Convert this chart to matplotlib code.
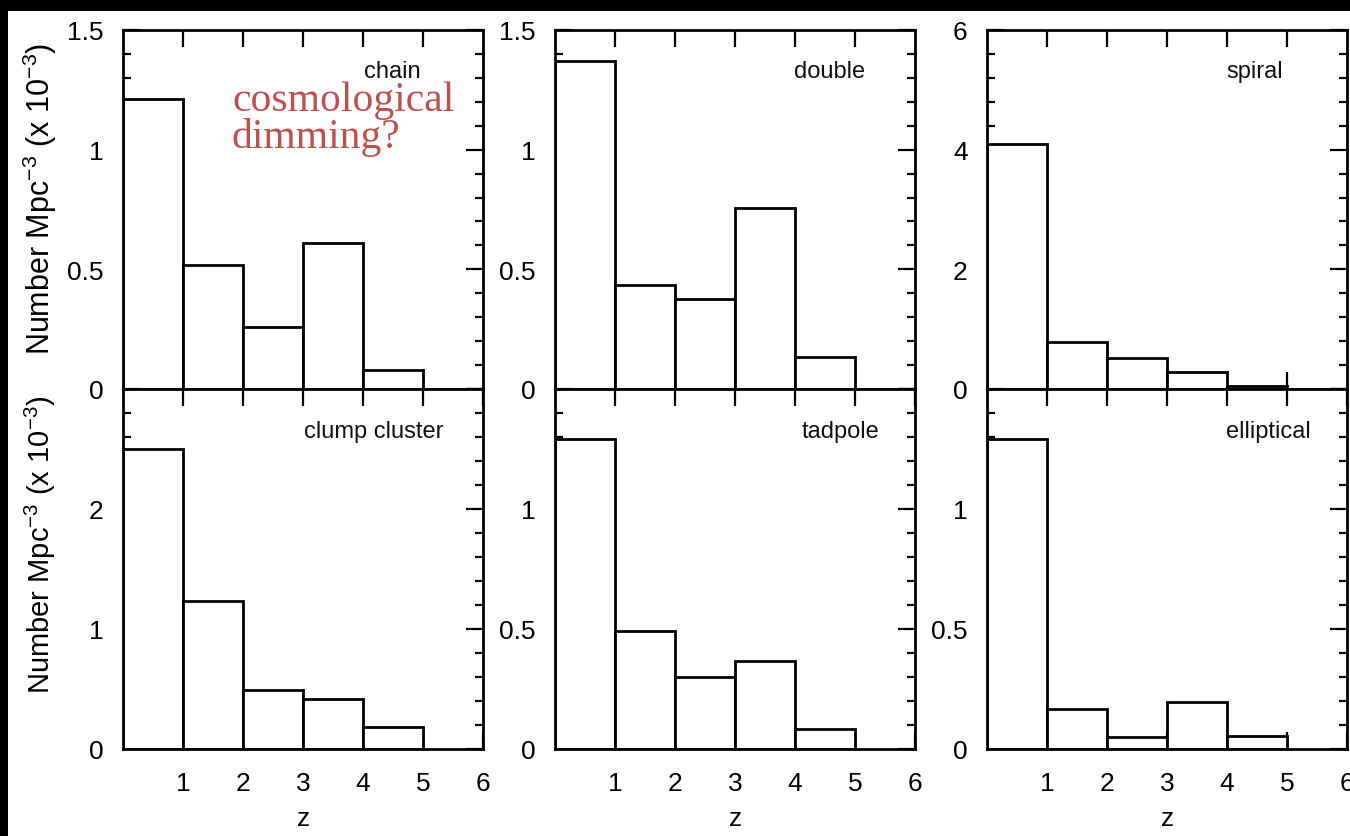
import matplotlib
matplotlib.use("Agg")
import matplotlib.pyplot as plt
from matplotlib.patches import Rectangle
from matplotlib.ticker import MultipleLocator, FixedLocator
import numpy as np

plt.rcParams['font.family'] = ['Liberation Sans', 'DejaVu Sans']
plt.rcParams['mathtext.fontset'] = 'custom'
plt.rcParams['mathtext.rm'] = 'Liberation Sans'
plt.rcParams['mathtext.it'] = 'Liberation Sans:italic'
plt.rcParams['mathtext.bf'] = 'Liberation Sans:bold'

bin_left = [0, 1, 2, 3, 4]
names = ["chain", "double", "spiral", "clump cluster", "tadpole", "elliptical"]
chain = [1.21, 0.52, 0.26, 0.61, 0.08]
double = [1.37, 0.435, 0.375, 0.755, 0.135]
spiral = [4.1, 0.79, 0.51, 0.29, 0.05]
clump_cluster = [2.5, 1.23, 0.49, 0.42, 0.18]
tadpole = [1.29, 0.49, 0.30, 0.365, 0.085]
elliptical = [1.29, 0.165, 0.048, 0.196, 0.055]
series = [chain, double, spiral, clump_cluster, tadpole, elliptical]
ymax = [1.5, 1.5, 6, 3, 1.5, 1.5]
ymajor = [0.5, 0.5, 2, 1, 0.5, 0.5]
xticks = [1, 2, 3, 4, 5, 6]
ylabel = r"Number Mpc$^{-3}$ (x 10$^{-3}$)"

W, H = 1350, 837
fig = plt.figure(figsize=(13.5, 8.37), dpi=100, facecolor='black')
fig.patches.append(Rectangle((8 / W, 0), 1, (H - 12) / H, transform=fig.transFigure,
                             facecolor='white', edgecolor='none', zorder=-10))

lefts = [123, 555, 987]
tops = [31, 390]
bottoms = [390, 750]
label_pos = [(392, 72), (830, 72), (1255, 72), (374, 432), (840, 432), (1268, 432)]

for i in range(6):
    r, c = divmod(i, 3)
    l = lefts[c]
    ax = fig.add_axes([l / W, (H - bottoms[r]) / H, 360 / W, (bottoms[r] - tops[r]) / H])
    ax.set_facecolor('white')
    ax.bar(bin_left, series[i], width=1, align='edge', facecolor='white',
           edgecolor='black', linewidth=2.0, zorder=2)
    ax.set_xlim(0, 6)
    ax.set_ylim(0, ymax[i])
    ax.xaxis.set_major_locator(FixedLocator([1, 2, 3, 4, 5]))
    ax.yaxis.set_major_locator(MultipleLocator(ymajor[i]))
    ax.yaxis.set_minor_locator(MultipleLocator(ymajor[i] / 5))
    ax.tick_params(which='both', direction='in', top=True, right=True, width=1.6,
                   labelsize=19, colors='black')
    ax.tick_params(which='major', length=12)
    ax.tick_params(axis='y', which='major', pad=14)
    ax.tick_params(which='minor', length=6)
    for s in ax.spines.values():
        s.set_linewidth(2)
    yt = np.arange(0, ymax[i] + 1e-9, ymajor[i])
    ax.set_yticks(yt)
    if r == 0:
        ax.set_yticklabels([f"{v:g}" for v in yt])
        ax.set_xticklabels([])
    else:
        ax.set_yticklabels([f"{v:g}" for v in yt[:-1]] + [""])
        ax.set_xticks(xticks)
        ax.set_xticklabels([str(v) for v in xticks])
        ax.tick_params(axis='x', which='major', pad=16)
        ax.set_xlabel("z", fontsize=19, labelpad=8)
    fig.text(label_pos[i][0] / W, 1 - label_pos[i][1] / H, names[i], fontsize=17,
             ha='center', va='center', color='#111111')

fig.text(40 / W, 1 - 199 / H, ylabel, rotation=90, fontsize=22, ha='center', va='center')
fig.text(40 / W, 1 - 545 / H, ylabel, rotation=90, fontsize=21, ha='center', va='center')

fig.text(232 / W, 1 - 82 / H, "cosmological\ndimming?", fontsize=30, color='#c0504d',
         family='Liberation Serif', ha='left', va='top', linespacing=0.92)

fig.savefig("out.png", dpi=100, facecolor=fig.get_facecolor())
